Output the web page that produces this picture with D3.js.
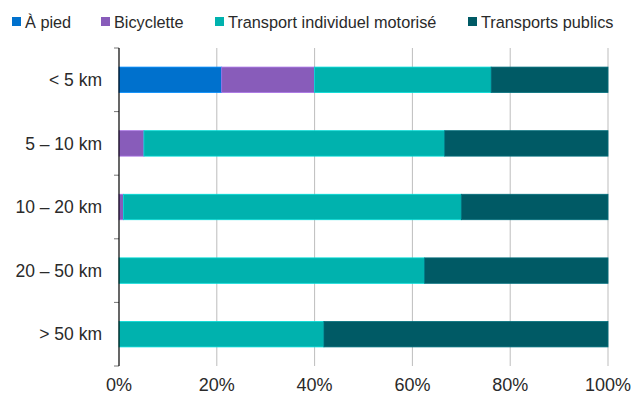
<!DOCTYPE html>
<html><head><meta charset="utf-8">
<script src="https://cdn.jsdelivr.net/npm/d3@7"></script>
<style>body{margin:0;background:#fff}svg{display:block}text{font-family:"Liberation Sans",Arial,sans-serif;fill:#2a2a2a}</style>
</head><body>
<script>
const categories = ["< 5 km", "5 – 10 km", "10 – 20 km", "20 – 50 km", "> 50 km"];
const seriesNames = ["À pied", "Bicyclette", "Transport individuel motorisé", "Transports publics"];
const colors = ["#0071cd", "#885cba", "#00b2ae", "#005a65"];
const aPied = [21.0, 0, 0, 0, 0];
const bicyclette = [19.0, 5.1, 0.9, 0, 0];
const tim = [36.1, 61.5, 69.1, 62.5, 41.9];
const tp = [23.9, 33.4, 30.0, 37.5, 58.1];
const xTicks = [0, 20, 40, 60, 80, 100];

const W = 632, H = 396;
const svg = d3.select("body").append("svg").attr("width", W).attr("height", H);
const x = d3.scaleLinear().domain([0, 100]).range([119, 608]);
const y = d3.scaleBand().domain(categories).range([48, 366]).paddingInner(0.6).paddingOuter(0.3);

// gridlines
svg.append("g").selectAll("line").data(xTicks.slice(1)).join("line")
  .attr("x1", d => x(d)).attr("x2", d => x(d)).attr("y1", 48).attr("y2", 366)
  .attr("stroke", "#bdbdbd").attr("stroke-width", 1);

const rows = categories.map((c, i) => ({cat: c, vals: [aPied[i], bicyclette[i], tim[i], tp[i]]}));
const stack = d3.stack().keys([0,1,2,3]).value((d, k) => d.vals[k]);
const stacked = stack(rows);

svg.append("g").selectAll("g").data(stacked).join("g")
  .attr("fill", (d, i) => colors[i])
  .attr("stroke", (d, i) => d3.color(colors[i]).brighter(0.6))
  .attr("stroke-width", 0.8)
  .selectAll("rect").data(d => d.filter(s => s[1] - s[0] > 0)).join("rect")
  .attr("x", d => x(d[0])).attr("width", d => x(d[1]) - x(d[0]))
  .attr("y", d => y(d.data.cat)).attr("height", y.bandwidth());

// y axis
const step = y.step();
const boundaries = d3.range(categories.length + 1).map(i => 48 + i * step);
svg.append("g").selectAll("line").data(boundaries).join("line")
  .attr("x1", 114).attr("x2", 119).attr("y1", d => d).attr("y2", d => d)
  .attr("stroke", "#777").attr("stroke-width", 1);
svg.append("line").attr("x1", 119).attr("x2", 119).attr("y1", 48).attr("y2", 366)
  .attr("stroke", "#000").attr("stroke-width", 1.2);
svg.append("g").selectAll("text").data(categories).join("text")
  .attr("x", 102).attr("y", d => y(d) + y.bandwidth() / 2).attr("dy", "0.35em")
  .attr("text-anchor", "end").attr("font-size", 17.5).text(d => d);

// x labels
svg.append("g").selectAll("text").data(xTicks).join("text")
  .attr("x", d => x(d)).attr("y", 391).attr("text-anchor", "middle")
  .attr("font-size", 18).text(d => d + "%");

// legend
const legendX = [12, 101, 215, 468];
const lg = svg.append("g").selectAll("g").data(seriesNames).join("g")
  .attr("transform", (d, i) => `translate(${legendX[i]},0)`);
lg.append("rect").attr("x", 0).attr("y", 17).attr("width", 9).attr("height", 9)
  .attr("fill", (d, i) => colors[i]);
lg.append("text").attr("x", 13).attr("y", 27.5).attr("font-size", 16.3).text(d => d);
</script>
</body></html>
